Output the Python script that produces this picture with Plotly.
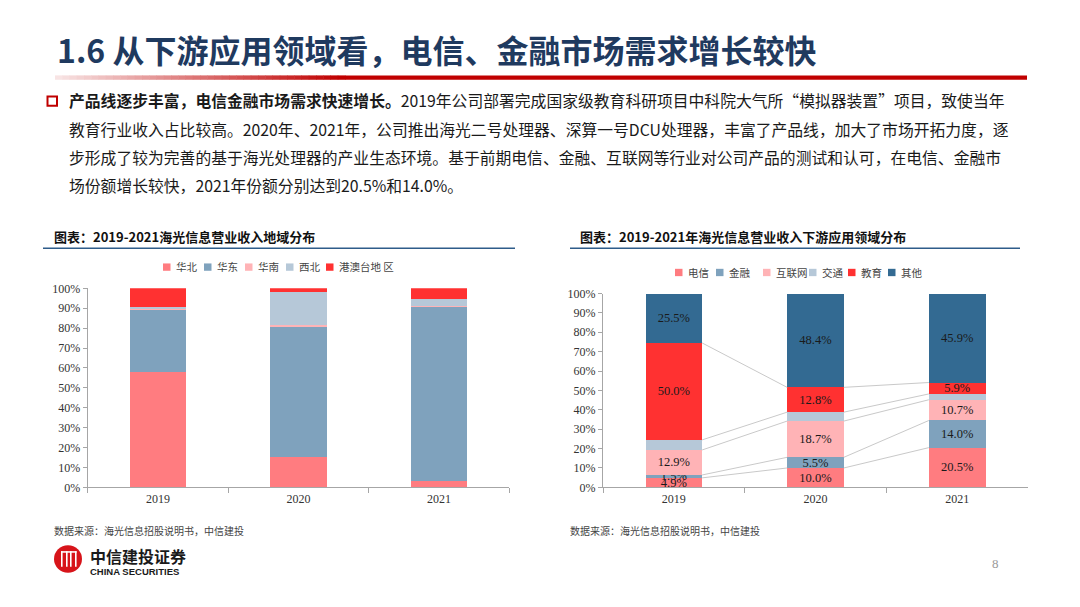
import plotly.graph_objects as go

W, H = 1080, 607

# ---------------- data ----------------
years = ["2019", "2020", "2021"]

# left chart: revenue by region (%)
region_names = ["华北", "华东", "华南", "西北", "港澳台地 区"]
region_huabei = [57.8, 15.2, 3.3]
region_huadong = [31.4, 65.5, 87.5]
region_huanan = [0.3, 1.0, 0.3]
region_xibei = [1.0, 16.7, 3.3]
region_gat = [9.5, 1.6, 5.6]

# right chart: revenue by downstream application (%)
app_names = ["电信", "金融", "互联网", "交通", "教育", "其他"]
app_telecom = [4.9, 10.0, 20.5]
app_finance = [1.5, 5.5, 14.0]
app_internet = [12.9, 18.7, 10.7]
app_transport = [5.2, 4.6, 3.0]
app_education = [50.0, 12.8, 5.9]
app_other = [25.5, 48.4, 45.9]

y_ticks = [0, 10, 20, 30, 40, 50, 60, 70, 80, 90, 100]
y_tick_labels = ["0%", "10%", "20%", "30%", "40%", "50%", "60%", "70%", "80%", "90%", "100%"]

title_text = "1.6 从下游应用领域看，电信、金融市场需求增长较快"
para_lines = [
    "<b>产品线逐步丰富，电信金融市场需求快速增长。</b>2019年公司部署完成国家级教育科研项目中科院大气所“模拟器装置”项目，致使当年",
    "教育行业收入占比较高。2020年、2021年，公司推出海光二号处理器、深算一号DCU处理器，丰富了产品线，加大了市场开拓力度，逐",
    "步形成了较为完善的基于海光处理器的产业生态环境。基于前期电信、金融、互联网等行业对公司产品的测试和认可，在电信、金融市",
    "场份额增长较快，2021年份额分别达到20.5%和14.0%。",
]
left_header = "图表：2019-2021海光信息营业收入地域分布"
right_header = "图表：2019-2021年海光信息营业收入下游应用领域分布"
source_text = "数据来源：海光信息招股说明书，中信建投"

# ---------------- style ----------------
C_A = "#FF7C80"   # 华北 / 电信
C_B = "#7FA2BD"   # 华东 / 金融
C_C = "#FFB3B6"   # 华南 / 互联网
C_D = "#B6C8D8"   # 西北 / 交通
C_E = "#FF3131"   # 港澳台 / 教育
C_F = "#336A92"   # 其他

CJK = "Noto Sans CJK SC"
SERIF = "Liberation Serif"

region_series = [region_huabei, region_huadong, region_huanan, region_xibei, region_gat]
region_colors = [C_A, C_B, C_C, C_D, C_E]
app_series = [app_telecom, app_finance, app_internet, app_transport, app_education, app_other]
app_colors = [C_A, C_B, C_C, C_D, C_E, C_F]
app_show_label = [True, True, True, False, True, True]

BAR_W = 0.4

fig = go.Figure()

for name, vals, col in zip(region_names, region_series, region_colors):
    fig.add_trace(go.Bar(
        x=years, y=vals, name=name, marker=dict(color=col, line=dict(width=0)),
        width=BAR_W, xaxis="x", yaxis="y", showlegend=False,
    ))

for name, vals, col, lab in zip(app_names, app_series, app_colors, app_show_label):
    fig.add_trace(go.Bar(
        x=years, y=vals, name=name, marker=dict(color=col, line=dict(width=0)),
        width=BAR_W, xaxis="x2", yaxis="y2", showlegend=False,
        texttemplate="%{y:.1f}%" if lab else "",
        textposition="inside", insidetextanchor="middle", textangle=0,
        constraintext="none",
        textfont=dict(family=SERIF, size=12.5, color="#1a1a1a"),
    ))

# series lines (right chart) connecting segment tops between bars
shapes = []
cum = [0.0] * len(years)
for vals in app_series[:-1]:
    cum = [c + v for c, v in zip(cum, vals)]
    for i in range(len(years) - 1):
        shapes.append(dict(
            type="line", xref="x2", yref="y2",
            x0=i + BAR_W / 2, y0=cum[i], x1=i + 1 - BAR_W / 2, y1=cum[i + 1],
            line=dict(color="#C9C9C9", width=1),
        ))


def px(x):
    return x / W


def py(y):
    return 1 - y / H


annotations = []


def text(x, y, s, size, color="#222", family=CJK, xanchor="left", yanchor="middle", bold=False):
    if bold:
        s = "<b>" + s + "</b>"
    annotations.append(dict(
        xref="paper", yref="paper", x=px(x), y=py(y), text=s, showarrow=False,
        xanchor=xanchor, yanchor=yanchor, align="left",
        font=dict(family=family, size=size, color=color),
    ))


def rect(x0, y0, x1, y1, fill, line=None, lw=0):
    shapes.append(dict(
        type="rect", xref="paper", yref="paper",
        x0=px(x0), x1=px(x1), y0=py(y1), y1=py(y0),
        fillcolor=fill, line=dict(color=line or fill, width=lw), layer="above",
    ))


# title
text(55, 43, title_text, 32, color="#1F3A5F", bold=True)

# gradient red rule
N = 40
gx0, gx1, gend = 55, 345, 1027
for k in range(N):
    t = k / (N - 1)
    r = int(248 + (192 - 248) * t)
    g = int(228 + (0 - 228) * t)
    b = int(228 + (0 - 228) * t)
    xa = gx0 + (gx1 - gx0) * k / N
    xb = gx0 + (gx1 - gx0) * (k + 1) / N + 0.5
    rect(xa, 70, xb, 74.5, "rgb(%d,%d,%d)" % (r, g, b))
rect(gx1, 70, gend, 74.5, "#C00000")

# bullet
shapes.append(dict(type="rect", xref="paper", yref="paper",
                   x0=px(47.5), x1=px(57), y0=py(101), y1=py(91.5),
                   fillcolor="white", line=dict(color="#C00000", width=2)))

# paragraph
for i, line in enumerate(para_lines):
    text(67, 96 + i * 29, line, 15.8, color="#1a1a1a")

# chart headers
text(52, 235, left_header, 13, color="#111", bold=True)
text(578, 235, right_header, 13, color="#111", bold=True)
shapes.append(dict(type="line", xref="paper", yref="paper", x0=px(43), x1=px(515),
                   y0=py(247), y1=py(247), line=dict(color="#2E5C8A", width=1.5)))
shapes.append(dict(type="line", xref="paper", yref="paper", x0=px(570), x1=px(1020),
                   y0=py(247), y1=py(247), line=dict(color="#2E5C8A", width=1.5)))

# legends
left_leg_x = [163, 204, 245, 286, 326]
for name, col, lx in zip(region_names, region_colors, left_leg_x):
    rect(lx, 262.5, lx + 7.5, 270, col)
    text(lx + 11, 266, name, 10.5, color="#444")

right_leg_x = [675, 716, 763, 809, 848, 888]
for name, col, lx in zip(app_names, app_colors, right_leg_x):
    rect(lx, 268, lx + 7.5, 275.5, col)
    text(lx + 11, 271.5, name, 10.5, color="#444")

# sources
text(52, 536, source_text, 10, color="#444")
text(568, 536, source_text, 10, color="#444")

# page number
text(995, 570, "8", 13, color="#999", family=SERIF, xanchor="center")

# logo
shapes.append(dict(type="circle", xref="paper", yref="paper",
                   x0=px(54), x1=px(82), y0=py(579), y1=py(551),
                   fillcolor="#D7141A", line=dict(color="#D7141A", width=0)))
for xo in [61, 66, 70, 75]:
    rect(xo, 557, xo + 1.6, 573, "white")
rect(61, 557, 76.6, 558.6, "white")
text(88, 562, "中信建投证券", 16, color="#1a1a1a", bold=True)
text(88, 578, "CHINA SECURITIES", 9.5, color="#1a1a1a", family="Liberation Sans", bold=True)

axis_common = dict(
    showgrid=False, zeroline=False, showline=True, linecolor="#A6A6A6", linewidth=1,
    ticks="outside", tickcolor="#A6A6A6",
    tickfont=dict(family=SERIF, size=12, color="#333"),
)

fig.update_layout(
    width=W, height=H, margin=dict(l=0, r=0, t=0, b=0),
    paper_bgcolor="white", plot_bgcolor="white",
    barmode="stack", showlegend=False,
    xaxis=dict(domain=[px(87.7), px(509.3)], anchor="y", type="category",
               tickson="boundaries", ticklen=5, **axis_common),
    yaxis=dict(domain=[py(491.7), py(288)], anchor="x", range=[0, 100],
               tickmode="array", tickvals=y_ticks, ticktext=y_tick_labels, ticklen=4, **axis_common),
    xaxis2=dict(domain=[px(603), px(1028)], anchor="y2", type="category",
                tickson="boundaries", ticklen=5, **axis_common),
    yaxis2=dict(domain=[py(491.7), py(293.3)], anchor="x2", range=[0, 100],
                tickmode="array", tickvals=y_ticks, ticktext=y_tick_labels, ticklen=4, **axis_common),
    shapes=shapes,
    annotations=annotations,
)

fig.write_html(
    "out.html",
    config={"displayModeBar": False},
    post_script="document.body.style.margin='0';document.body.style.padding='0';",
)
